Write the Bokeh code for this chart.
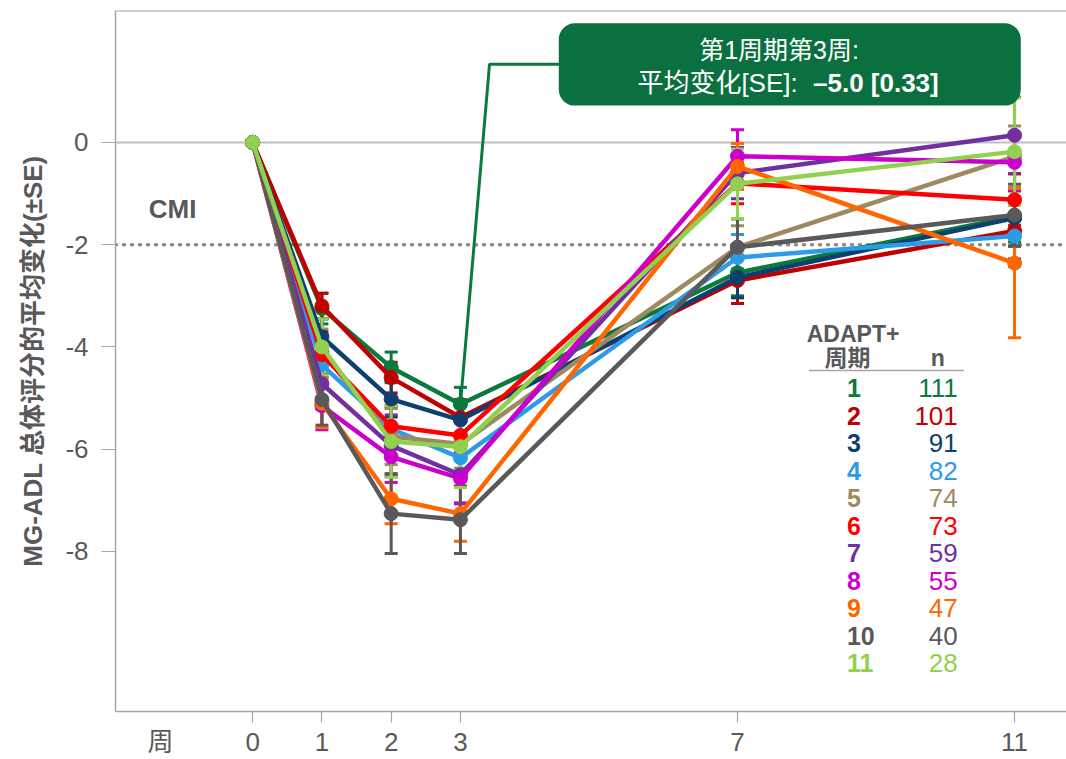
from bokeh.plotting import figure
from bokeh.models import FixedTicker, Span, Label, BoxAnnotation, Range1d, ColumnDataSource, LinearAxis
from bokeh.core.properties import value
from bokeh.embed import file_html
from bokeh.resources import INLINE

# ---------------- data ----------------
weeks = [0, 1, 2, 3, 7, 11]
week_tick_labels = ["0", "1", "2", "3", "7", "11"]
week_axis_title = "周"
y_ticks = [0, -2, -4, -6, -8]
y_tick_labels = ["0", "-2", "-4", "-6", "-8"]
cycles = ["1", "2", "3", "4", "5", "6", "7", "8", "9", "10", "11"]
n_values = ["111", "101", "91", "82", "74", "73", "59", "55", "47", "40", "28"]
colors = ["#0B7A3E", "#C00000", "#0E3F6E", "#2E9BE6", "#9C8B5F", "#FF0000",
          "#7030A0", "#CC00CC", "#FF6600", "#595959", "#92D050"]

mean_c1 = [0, -3.25, -4.40, -5.12, -2.55, -1.45]
mean_c2 = [0, -3.20, -4.60, -5.38, -2.70, -1.73]
mean_c3 = [0, -3.80, -5.02, -5.43, -2.64, -1.48]
mean_c4 = [0, -4.35, -5.60, -6.17, -2.25, -1.83]
mean_c5 = [0, -4.10, -5.75, -5.90, -2.05, -0.28]
mean_c6 = [0, -4.15, -5.55, -5.73, -0.80, -1.12]
mean_c7 = [0, -4.72, -5.93, -6.50, -0.60, 0.14]
mean_c8 = [0, -5.15, -6.15, -6.57, -0.27, -0.39]
mean_c9 = [0, -5.10, -6.97, -7.26, -0.47, -2.36]
mean_c10 = [0, -5.03, -7.26, -7.38, -2.05, -1.42]
mean_c11 = [0, -4.00, -5.85, -5.95, -0.81, -0.18]

se_c1 = [0, 0.30, 0.30, 0.33, 0.45, 0.50]
se_c2 = [0, 0.25, 0.30, 0.35, 0.45, 0.55]
se_c3 = [0, 0.35, 0.35, 0.35, 0.40, 0.55]
se_c4 = [0, 0.40, 0.40, 0.45, 0.45, 0.60]
se_c5 = [0, 0.45, 0.55, 0.47, 0.42, 0.60]
se_c6 = [0, 0.45, 0.40, 0.40, 0.40, 0.50]
se_c7 = [0, 0.50, 0.60, 0.55, 0.50, 0.75]
se_c8 = [0, 0.47, 0.50, 0.50, 0.52, 0.55]
se_c9 = [0, 0.48, 0.49, 0.54, 0.45, 1.46]
se_c10 = [0, 0.50, 0.78, 0.66, 0.55, 0.60]
se_c11 = [0, 0.55, 0.70, 0.80, 0.68, 1.05]

means = [mean_c1, mean_c2, mean_c3, mean_c4, mean_c5, mean_c6,
         mean_c7, mean_c8, mean_c9, mean_c10, mean_c11]
ses = [se_c1, se_c2, se_c3, se_c4, se_c5, se_c6,
       se_c7, se_c8, se_c9, se_c10, se_c11]

cmi_threshold = -2
callout_line1 = "第1周期第3周:"
callout_line2a = "平均变化[SE]:"
callout_line2b = "–5.0 [0.33]"

# ---------------- styling ----------------
LAT = "Liberation Sans"
CJK = "Liberation Sans, Noto Sans CJK SC"
GRAY_TXT = "#595959"
AXIS_GRAY = "#a6a6a6"
WEEK_TITLE_POS = -1.33

p = figure(width=1066, height=759,
           x_range=Range1d(-1.98, 11.75), y_range=Range1d(-11.13, 2.58),
           output_backend="svg", toolbar_location=None,
           min_border_left=115, min_border_right=0, min_border_top=10,
           min_border_bottom=48)
p.xgrid.visible = False
p.ygrid.visible = False
p.outline_line_color = None
p.background_fill_color = "white"
p.border_fill_color = "white"

for ax in (p.xaxis, p.yaxis):
    ax.axis_line_color = AXIS_GRAY
    ax.axis_line_width = 1.5
    ax.major_tick_line_color = AXIS_GRAY
    ax.major_tick_line_width = 1.2
    ax.major_tick_in = 0
    ax.minor_tick_line_color = None
    ax.major_label_text_font = LAT
    ax.major_label_text_font_size = "26px"
    ax.major_label_text_color = GRAY_TXT

# x axis 1: line + tick marks only
p.xaxis.ticker = FixedTicker(ticks=weeks)
p.xaxis.major_label_overrides = {w: "" for w in weeks}
p.xaxis.major_label_text_font_size = "1px"
p.xaxis.major_tick_out = 11
p.xaxis.major_label_standoff = 0

# x axis 2: labels only (incl. the "周" title)
lab_ticks = [WEEK_TITLE_POS] + weeks
lab_over = {WEEK_TITLE_POS: week_axis_title}
lab_over.update({w: lab for w, lab in zip(weeks, week_tick_labels)})
xlab = LinearAxis(ticker=FixedTicker(ticks=lab_ticks), major_label_overrides=lab_over,
                  axis_line_color=None, major_tick_line_color=None, minor_tick_line_color=None,
                  major_tick_out=0, major_tick_in=0, major_label_standoff=4,
                  major_label_text_font=CJK, major_label_text_font_size="26px",
                  major_label_text_color=GRAY_TXT)
p.add_layout(xlab, "below")

p.yaxis.ticker = FixedTicker(ticks=y_ticks)
p.yaxis.major_label_overrides = {t: lab for t, lab in zip(y_ticks, y_tick_labels)}
p.yaxis.major_tick_out = 14
p.yaxis.major_label_standoff = 13
p.yaxis.axis_label = "MG-ADL 总体评分的平均变化(±SE)"
p.yaxis.axis_label_text_font = CJK
p.yaxis.axis_label_text_font_style = "bold"
p.yaxis.axis_label_text_font_size = "26px"
p.yaxis.axis_label_text_color = GRAY_TXT
p.yaxis.axis_label_standoff = 14

# top frame line
p.add_layout(Span(location=2.575, dimension="width", line_color=AXIS_GRAY, line_width=1.5))
# zero line and CMI dotted line
p.add_layout(Span(location=0, dimension="width", line_color="#c0c0c0", line_width=2, level="underlay"))
p.add_layout(Span(location=cmi_threshold, dimension="width", line_color="#8c8c8c",
                  line_width=3.5, line_dash="1 7", line_cap="round", level="underlay"))

p.add_layout(Label(x=-1.5, y=-1.31, text="CMI", text_font=LAT, text_font_style="bold",
                   text_font_size="26px", text_color=GRAY_TXT, text_baseline="middle"))

# series
for m, s, c in zip(means, ses, colors):
    xs = [w for w, e in zip(weeks, s) if e > 0]
    lo = [v - e for v, e in zip(m, s) if e > 0]
    hi = [v + e for v, e in zip(m, s) if e > 0]
    p.segment(x0=xs, y0=lo, x1=xs, y1=hi, line_color=c, line_width=3)
    p.scatter(x=xs + xs, y=lo + hi, marker="dash", size=13, line_color=c, line_width=3)
for m, c in zip(means, colors):
    p.line(weeks, m, line_color=c, line_width=4.5)
    p.scatter(weeks, m, size=14, fill_color=c, line_color=c)

# callout
green = colors[0]
p.line([weeks[3], 3.42, 4.45], [mean_c1[3], 1.53, 1.53], line_color=green, line_width=3)
p.add_layout(BoxAnnotation(left=4.42, right=11.09, top=2.33, bottom=0.72,
                           fill_color="#0B7040", fill_alpha=1.0, line_color=None,
                           border_radius=16))
p.add_layout(Label(x=7.6, y=1.80, text=callout_line1, text_font=CJK, text_font_size="25px",
                   text_color="white", text_align="center", text_baseline="middle"))
p.add_layout(Label(x=7.87, y=1.17, text=callout_line2a, text_font=CJK, text_font_size="26px",
                   text_color="white", text_align="right", text_baseline="middle"))
p.add_layout(Label(x=8.09, y=1.17, text=callout_line2b, text_font=LAT, text_font_size="26px",
                   text_font_style="bold", text_color="white", text_align="left",
                   text_baseline="middle"))

# table legend
p.add_layout(Label(x=8.0, y=-3.74, text="ADAPT+", text_font=LAT, text_font_style="bold",
                   text_font_size="23px", text_color=GRAY_TXT, text_baseline="middle"))
p.add_layout(Label(x=8.59, y=-4.21, text="周期", text_font=CJK, text_font_style="bold",
                   text_font_size="23px", text_color=GRAY_TXT, text_baseline="middle",
                   text_align="center"))
p.add_layout(Label(x=9.89, y=-4.21, text="n", text_font=LAT, text_font_style="bold",
                   text_font_size="23px", text_color=GRAY_TXT, text_baseline="middle",
                   text_align="center"))
p.line([8.03, 10.27], [-4.46, -4.46], line_color=AXIS_GRAY, line_width=1.5)

row_y = [-4.81 - 0.538 * i for i in range(len(cycles))]
src = ColumnDataSource(dict(cyc=cycles, n=n_values, y=row_y, c=colors,
                            xc=[8.58] * len(cycles), xn=[10.18] * len(cycles)))
p.text(x="xc", y="y", text="cyc", source=src, text_color="c", text_font=value(LAT),
       text_font_style="bold", text_font_size="25px", text_baseline="middle", text_align="left")
p.text(x="xn", y="y", text="n", source=src, text_color="c", text_font=value(LAT),
       text_font_size="26px", text_baseline="middle", text_align="right")

open("out.html", "w").write(file_html(p, INLINE))
